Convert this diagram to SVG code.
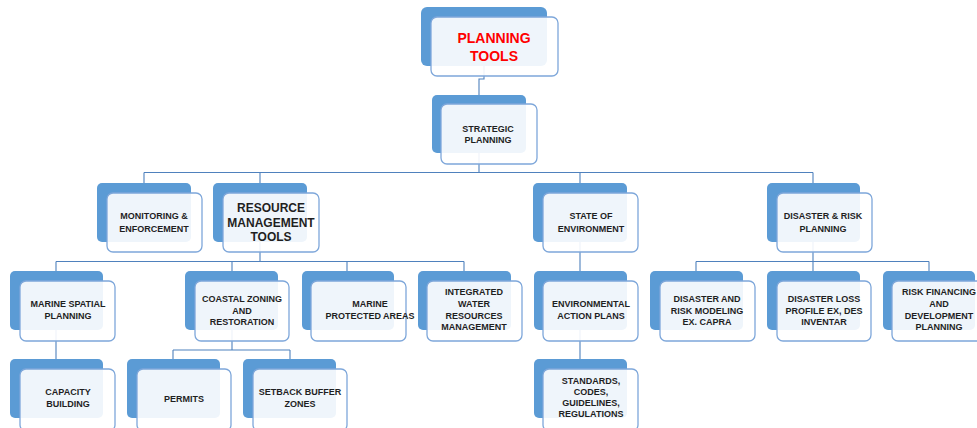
<svg xmlns="http://www.w3.org/2000/svg" width="977" height="428" viewBox="0 0 977 428">
<style>
.bk{fill:#5b9bd5;}
.fr{fill:#ffffff;fill-opacity:0.9;stroke:#7ea7da;stroke-width:1.3;}
.ln{fill:none;stroke:#4f81bd;stroke-width:1.1;}
text{font-family:"Liberation Sans",Arial,sans-serif;font-weight:bold;text-anchor:middle;fill:#1f1f1f;}
.s{font-size:9px;}
.m{font-size:12px;}
.t{font-size:14px;fill:#ff0000;}
</style>
<rect width="977" height="428" fill="#ffffff"/>
<g id="connectors">
<path class="ln" d="M484,66V79H479V95"/>
<path class="ln" d="M479,153V172.5"/>
<path class="ln" d="M144,172.5H813"/>
<path class="ln" d="M144,172.5V183M260,172.5V183M580,172.5V183M813,172.5V183"/>
<path class="ln" d="M260,242V261.5M56,261.5H464M56,261.5V271M232,261.5V271M347,261.5V271M464,261.5V271"/>
<path class="ln" d="M580,242V271M580,330V359"/>
<path class="ln" d="M813,242V261.5M696,261.5H929M696,261.5V271M813,261.5V271M929,261.5V271"/>
<path class="ln" d="M56,330V359"/>
<path class="ln" d="M232,330V350M173,350H290M173,350V359M290,350V359"/>
</g>
<g id="planning-tools">
<rect class="bk" x="421" y="7" width="126" height="59" rx="6"/>
<rect class="fr" x="431" y="17" width="127" height="59" rx="6"/>
<text class="t" x="494" y="43">PLANNING</text>
<text class="t" x="494" y="61">TOOLS</text>
</g>
<g id="strategic-planning">
<rect class="bk" x="432" y="95" width="94" height="58" rx="5"/>
<rect class="fr" x="441" y="104" width="96" height="60" rx="6"/>
<text class="s" x="488" y="132">STRATEGIC</text>
<text class="s" x="488" y="143">PLANNING</text>
</g>
<g id="monitoring">
<rect class="bk" x="97" y="183" width="94" height="59" rx="5"/>
<rect class="fr" x="107" y="193" width="95" height="59" rx="6"/>
<text class="s" x="154" y="219">MONITORING &amp;</text>
<text class="s" x="154" y="232">ENFORCEMENT</text>
</g>
<g id="resource-management">
<rect class="bk" x="213" y="183" width="94" height="59" rx="5"/>
<rect class="fr" x="223" y="193" width="96" height="59" rx="6"/>
<text class="m" x="271" y="212">RESOURCE</text>
<text class="m" x="271" y="227">MANAGEMENT</text>
<text class="m" x="271" y="241">TOOLS</text>
</g>
<g id="state-of-environment">
<rect class="bk" x="533" y="183" width="94" height="59" rx="5"/>
<rect class="fr" x="543" y="193" width="95" height="59" rx="6"/>
<text class="s" x="591" y="219">STATE OF</text>
<text class="s" x="591" y="232">ENVIRONMENT</text>
</g>
<g id="disaster-risk-planning">
<rect class="bk" x="767" y="183" width="93" height="59" rx="5"/>
<rect class="fr" x="777" y="193" width="95" height="59" rx="6"/>
<text class="s" x="823" y="219">DISASTER &amp; RISK</text>
<text class="s" x="823" y="232">PLANNING</text>
</g>
<g id="marine-spatial">
<rect class="bk" x="10" y="271" width="93" height="59" rx="5"/>
<rect class="fr" x="20" y="281" width="95" height="60" rx="6"/>
<text class="s" x="68" y="307">MARINE SPATIAL</text>
<text class="s" x="68" y="319">PLANNING</text>
</g>
<g id="coastal-zoning">
<rect class="bk" x="185" y="271" width="93" height="59" rx="5"/>
<rect class="fr" x="195" y="281" width="94" height="60" rx="6"/>
<text class="s" x="242" y="302">COASTAL ZONING</text>
<text class="s" x="242" y="314">AND</text>
<text class="s" x="242" y="325">RESTORATION</text>
</g>
<g id="marine-protected">
<rect class="bk" x="302" y="271" width="92" height="59" rx="5"/>
<rect class="fr" x="311" y="281" width="95" height="60" rx="6"/>
<text class="s" x="370" y="307">MARINE</text>
<text class="s" x="370" y="319">PROTECTED AREAS</text>
</g>
<g id="integrated-water">
<rect class="bk" x="418" y="271" width="93" height="59" rx="5"/>
<rect class="fr" x="427" y="281" width="95" height="60" rx="6"/>
<text class="s" x="474" y="295">INTEGRATED</text>
<text class="s" x="474" y="307">WATER</text>
<text class="s" x="474" y="319">RESOURCES</text>
<text class="s" x="474" y="330">MANAGEMENT</text>
</g>
<g id="environmental-action">
<rect class="bk" x="534" y="271" width="93" height="59" rx="5"/>
<rect class="fr" x="543" y="281" width="95" height="60" rx="6"/>
<text class="s" x="591" y="307">ENVIRONMENTAL</text>
<text class="s" x="591" y="319">ACTION PLANS</text>
</g>
<g id="disaster-modeling">
<rect class="bk" x="650" y="271" width="93" height="59" rx="5"/>
<rect class="fr" x="660" y="281" width="95" height="60" rx="6"/>
<text class="s" x="707" y="302">DISASTER AND</text>
<text class="s" x="707" y="314">RISK MODELING</text>
<text class="s" x="707" y="325">EX. CAPRA</text>
</g>
<g id="disaster-loss">
<rect class="bk" x="767" y="271" width="93" height="59" rx="5"/>
<rect class="fr" x="777" y="281" width="94" height="60" rx="6"/>
<text class="s" x="824" y="302">DISASTER LOSS</text>
<text class="s" x="824" y="314">PROFILE EX, DES</text>
<text class="s" x="824" y="325">INVENTAR</text>
</g>
<g id="risk-financing">
<rect class="bk" x="883" y="271" width="92" height="59" rx="5"/>
<rect class="fr" x="892" y="281" width="95" height="60" rx="6"/>
<text class="s" x="939" y="295">RISK FINANCING</text>
<text class="s" x="939" y="307">AND</text>
<text class="s" x="939" y="319">DEVELOPMENT</text>
<text class="s" x="939" y="330">PLANNING</text>
</g>
<g id="capacity-building">
<rect class="bk" x="10" y="359" width="93" height="59" rx="5"/>
<rect class="fr" x="20" y="369" width="95" height="62" rx="6"/>
<text class="s" x="68" y="395">CAPACITY</text>
<text class="s" x="68" y="407">BUILDING</text>
</g>
<g id="permits">
<rect class="bk" x="127" y="359" width="93" height="59" rx="5"/>
<rect class="fr" x="137" y="369" width="94" height="62" rx="6"/>
<text class="s" x="184" y="402">PERMITS</text>
</g>
<g id="setback">
<rect class="bk" x="243" y="359" width="93" height="59" rx="5"/>
<rect class="fr" x="253" y="369" width="94" height="62" rx="6"/>
<text class="s" x="300" y="395">SETBACK BUFFER</text>
<text class="s" x="300" y="407">ZONES</text>
</g>
<g id="standards">
<rect class="bk" x="534" y="359" width="93" height="59" rx="5"/>
<rect class="fr" x="543" y="369" width="95" height="62" rx="6"/>
<text class="s" x="591" y="384">STANDARDS,</text>
<text class="s" x="591" y="395">CODES,</text>
<text class="s" x="591" y="406">GUIDELINES,</text>
<text class="s" x="591" y="417">REGULATIONS</text>
</g>
</svg>
